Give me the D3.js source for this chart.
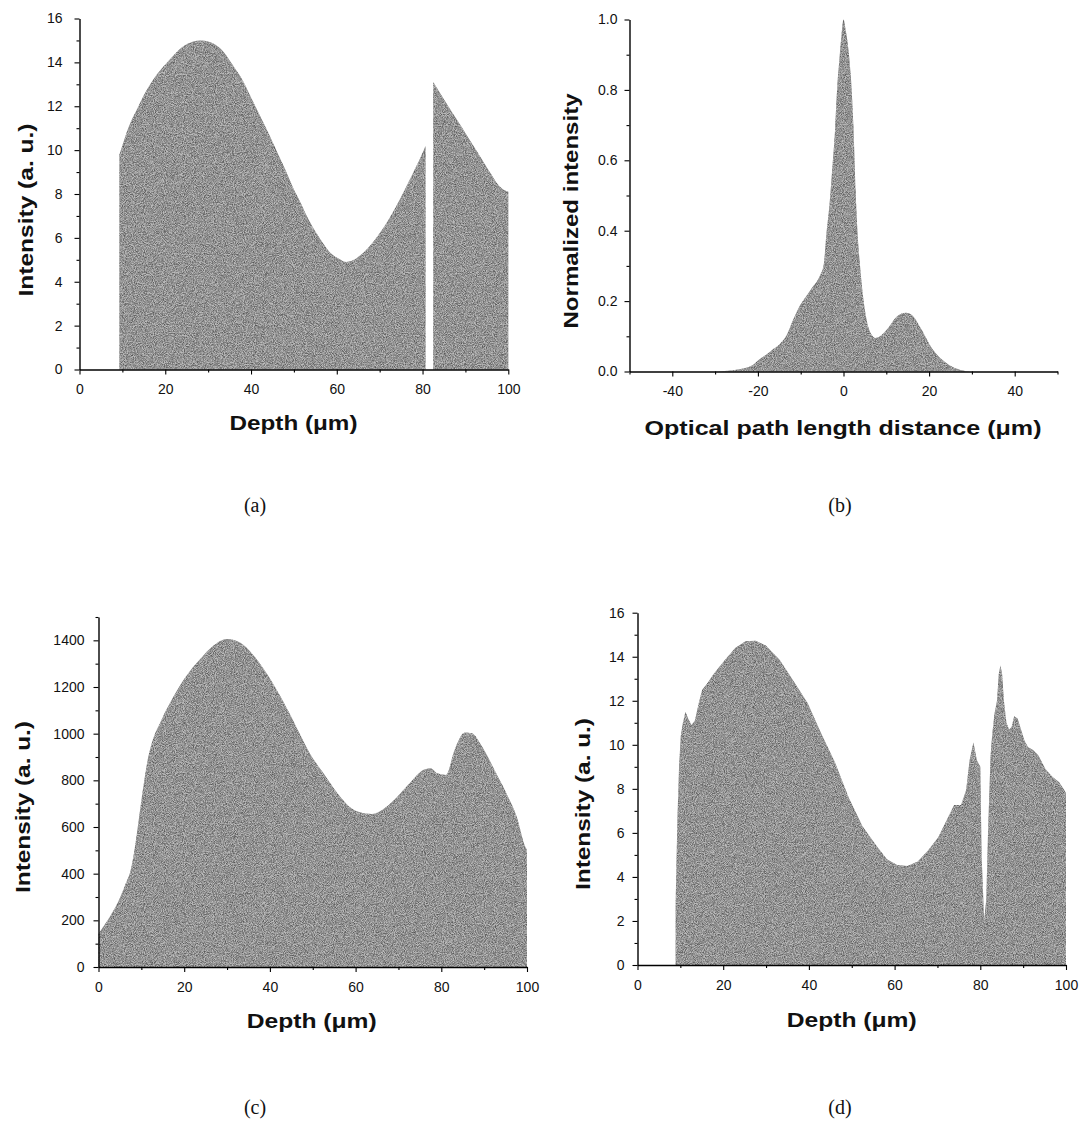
<!DOCTYPE html>
<html><head><meta charset="utf-8">
<script src="https://cdn.jsdelivr.net/npm/d3@7"></script>
<style>body{margin:0;background:#fff;} svg{display:block;background:#fff}</style>
</head><body>
<svg id="chart" width="1079" height="1128"></svg>
<script>
// ---------- DATA ----------
// (a) depth profile, null marks the gap
const aDepth = [9.3,10,11,12,13.5,15,17.5,20,21.6,24,26.4,28.4,31.2,33.5,36,38,40,42,44,46,48,50,51.3,53,55.3,57,58.6,60.5,62.2,64,65.8,68,69.8,72,73.9,76,77.9,79.5,80.7,81.6,82.5,84,86,88.3,90,92,94,96,97.3,98.5,100];
const aIntensity = [9.8,10.2,10.8,11.3,11.9,12.5,13.3,13.9,14.25,14.7,14.94,15.0,14.86,14.5,13.8,13.2,12.4,11.6,10.8,9.95,9.1,8.2,7.7,7.0,6.2,5.7,5.3,5.05,4.9,5.0,5.25,5.7,6.15,6.8,7.45,8.25,9.0,9.65,10.2,null,13.1,12.63,12.0,11.3,10.77,10.15,9.53,8.9,8.5,8.25,8.1];

// (b) coherence function
const bDistance = [-50,-40,-30,-27,-25,-23,-21,-19.7,-18,-16.5,-15,-13.2,-12,-10.5,-9.2,-7.5,-5.6,-4.6,-4.0,-3.3,-2.6,-2.0,-1.5,-1.0,-0.5,0,0.5,1.0,1.7,2.3,2.8,3.3,3.9,4.5,5.3,6.3,7.5,8.5,10.2,12.6,14.6,16.2,18.2,20.6,23,25.5,27.9,29.5,40,50];
const bIntensity = [0,0,0,0.002,0.005,0.01,0.02,0.034,0.048,0.063,0.077,0.105,0.14,0.18,0.205,0.235,0.27,0.305,0.39,0.47,0.58,0.68,0.8,0.88,0.95,1.0,0.97,0.93,0.84,0.70,0.52,0.39,0.295,0.22,0.153,0.11,0.095,0.1,0.12,0.158,0.167,0.158,0.12,0.067,0.034,0.013,0.003,0,0,0];

// (c) measured profile
const cDepth = [0,2.65,5.1,6.3,7.5,8.3,9.1,9.9,10.7,11.5,12.3,14.7,17.1,20.4,23.6,26.8,30,33.2,36.4,39.7,42.9,46.1,49.3,52.5,55.8,59,62.2,63.8,66.2,69.4,72.6,75.9,77.5,79.1,81.1,83.1,85.5,87.1,89.5,92.8,95.2,97.6,99.6,100];
const cIntensity = [143,215,300,355,415,490,590,700,800,890,950,1059,1145,1245,1317,1377,1406,1389,1331,1245,1145,1031,916,830,744,680,658,656,673,723,787,845,852,830,823,930,1005,1002,945,830,744,644,515,501];

// (d) recovered profile
const dDepth = [8.9,9.3,9.7,10.1,10.6,11.2,11.8,12.6,13.4,14.3,15.1,16.3,17.9,20.4,22.8,25.2,27.6,30,33.2,36.4,39.7,42.9,46.1,49.3,52.5,55.8,58.2,60.6,63,65.4,67.8,70.2,72.2,73.9,75.5,76.7,77.5,78.4,79.2,80.0,80.3,80.9,81.4,81.8,82.4,82.8,83.3,83.9,84.3,84.7,85.1,85.5,86.1,86.7,87.3,87.9,88.7,89.5,90.3,91.1,92.4,93.6,95.2,96.8,98.4,99.6,100];
const dIntensity = [2.8,6.5,9.0,10.4,11.0,11.5,11.2,10.9,11.1,11.9,12.5,12.8,13.25,13.85,14.4,14.7,14.73,14.5,13.85,12.9,11.9,10.5,9.2,7.6,6.3,5.4,4.8,4.54,4.5,4.7,5.2,5.8,6.6,7.27,7.27,7.95,9.3,10.1,9.3,9.0,5.0,2.0,3.0,6.0,9.5,10.5,11.4,12.0,13.2,13.6,13.2,12.0,11.0,10.7,10.8,11.3,11.2,10.7,10.2,9.9,9.75,9.5,8.9,8.55,8.3,7.95,7.8];

// tick values
const depthMajor = [0,20,40,60,80,100];
const depthMinor = [10,30,50,70,90];
const int16Major = [0,2,4,6,8,10,12,14,16];
const int16Minor = [1,3,5,7,9,11,13,15];
const normMajor = [0,0.2,0.4,0.6,0.8,1.0];
const normMinor = [0.1,0.3,0.5,0.7,0.9];
const oplMajor = [-40,-20,0,20,40];
const oplMinor = [-50,-30,-10,10,30,50];
const int1500Major = [0,200,400,600,800,1000,1200,1400];
const int1500Minor = [100,300,500,700,900,1100,1300,1500];

// ---------- DRAW ----------
const svg = d3.select("#chart");
const defs = svg.append("defs");
const f = defs.append("filter").attr("id","grain")
  .attr("x","0%").attr("y","0%").attr("width","100%").attr("height","100%")
  .attr("color-interpolation-filters","sRGB");
f.append("feTurbulence").attr("type","fractalNoise").attr("baseFrequency","1.1")
  .attr("numOctaves","2").attr("seed","5").attr("result","noise");
f.append("feColorMatrix").attr("in","noise").attr("type","matrix")
  .attr("values","1.8 0 0 0 -0.3  1.8 0 0 0 -0.3  1.8 0 0 0 -0.3  0 0 0 0 1")
  .attr("result","gray");
f.append("feComposite").attr("in","gray").attr("in2","SourceGraphic").attr("operator","in");

const FONT = "'Liberation Sans', Arial, sans-serif";

function panel(c){
  const x = d3.scaleLinear().domain(c.xDomain).range(c.xRange);
  const y = d3.scaleLinear().domain(c.yDomain).range(c.yRange);
  const g = svg.append("g");
  const pts = c.xs.map((v,i)=>({x:v,y:c.ys[i]}));
  const area = d3.area()
    .defined(d=>d.y!==null)
    .x(d=>x(d.x)).y0(y(0)).y1(d=>y(d.y))
    .curve(c.curve);
  g.append("path").datum(pts).attr("d",area).attr("fill","#909090");
  g.append("path").datum(pts).attr("d",area)
    .attr("fill","#888").attr("filter","url(#grain)").attr("opacity",0.4);

  const y0 = y(c.yDomain[0]), x0 = x(c.xDomain[0]);
  // x axis
  g.append("g").attr("transform",`translate(0,${y0})`)
    .call(d3.axisBottom(x).tickValues(c.xMajor).tickSize(5).tickPadding(10)
      .tickSizeOuter(0).tickFormat(d=>String(d)));
  g.append("g").attr("transform",`translate(0,${y0})`)
    .call(d3.axisBottom(x).tickValues(c.xMinor).tickSize(3).tickSizeOuter(0).tickFormat(""))
    .call(s=>s.select(".domain").remove());
  // y axis
  g.append("g").attr("transform",`translate(${x0},0)`)
    .call(d3.axisLeft(y).tickValues(c.yMajor).tickSize(5).tickPadding(c.yPad)
      .tickSizeOuter(0).tickFormat(c.yFormat));
  g.append("g").attr("transform",`translate(${x0},0)`)
    .call(d3.axisLeft(y).tickValues(c.yMinor).tickSize(3).tickSizeOuter(0).tickFormat(""))
    .call(s=>s.select(".domain").remove());

  g.selectAll(".domain").attr("stroke","#000").attr("stroke-width",1.4);
  g.selectAll(".tick line").attr("stroke","#000").attr("stroke-width",1.1);
  g.selectAll(".tick text").attr("font-family",FONT).attr("font-size",14).attr("fill","#111");

  // titles
  g.append("text").attr("x",c.xt.x).attr("y",c.xt.y).attr("text-anchor","middle")
    .attr("font-family",FONT).attr("font-weight","bold").attr("font-size",21)
    .attr("textLength",c.xt.len).attr("lengthAdjust","spacingAndGlyphs")
    .attr("fill","#111").text(c.xt.text);
  g.append("text").attr("transform",`translate(${c.yt.x},${c.yt.y}) rotate(-90)`)
    .attr("text-anchor","middle")
    .attr("font-family",FONT).attr("font-weight","bold").attr("font-size",21)
    .attr("textLength",c.yt.len).attr("lengthAdjust","spacingAndGlyphs")
    .attr("fill","#111").text(c.yt.text);
  g.append("text").attr("x",c.lab.x).attr("y",c.lab.y).attr("text-anchor","middle")
    .attr("font-family","'Liberation Serif', 'Times New Roman', serif").attr("font-size",20)
    .attr("fill","#111").text(c.lab.text);
}

const fmtInt = d=>String(d);
const fmt1 = d3.format(".1f");

panel({xDomain:[0,100], yDomain:[0,16], xRange:[79.5,508.3], yRange:[369.5,18.5],
  xs:aDepth, ys:aIntensity, curve:d3.curveMonotoneX,
  xMajor:depthMajor, xMinor:depthMinor, yMajor:int16Major, yMinor:int16Minor, yFormat:fmtInt, yPad:12,
  xt:{text:"Depth (μm)", x:293.5, y:430, len:128},
  yt:{text:"Intensity (a. u.)", x:33, y:210, len:173},
  lab:{text:"(a)", x:255, y:512}});

panel({xDomain:[-50,50], yDomain:[0,1], xRange:[629.5,1057.5], yRange:[371.5,19.5],
  xs:bDistance, ys:bIntensity, curve:d3.curveMonotoneX,
  xMajor:oplMajor, xMinor:oplMinor, yMajor:normMajor, yMinor:normMinor, yFormat:fmt1, yPad:7,
  xt:{text:"Optical path length distance (μm)", x:843, y:435, len:397},
  yt:{text:"Normalized intensity", x:578, y:211, len:235},
  lab:{text:"(b)", x:840, y:512}});

panel({xDomain:[0,100], yDomain:[0,1500], xRange:[98.5,527], yRange:[967,617],
  xs:cDepth, ys:cIntensity, curve:d3.curveMonotoneX,
  xMajor:depthMajor, xMinor:depthMinor, yMajor:int1500Major, yMinor:int1500Minor, yFormat:fmtInt, yPad:9,
  xt:{text:"Depth (μm)", x:311.7, y:1028, len:130},
  yt:{text:"Intensity (a. u.)", x:30, y:807, len:172},
  lab:{text:"(c)", x:255, y:1114}});

panel({xDomain:[0,100], yDomain:[0,16], xRange:[637.5,1066], yRange:[965,612.7],
  xs:dDepth, ys:dIntensity, curve:d3.curveLinear,
  xMajor:depthMajor, xMinor:depthMinor, yMajor:int16Major, yMinor:int16Minor, yFormat:fmtInt, yPad:8,
  xt:{text:"Depth (μm)", x:851.7, y:1027, len:130},
  yt:{text:"Intensity (a. u.)", x:590, y:804, len:172},
  lab:{text:"(d)", x:840, y:1114}});
</script>
</body></html>
